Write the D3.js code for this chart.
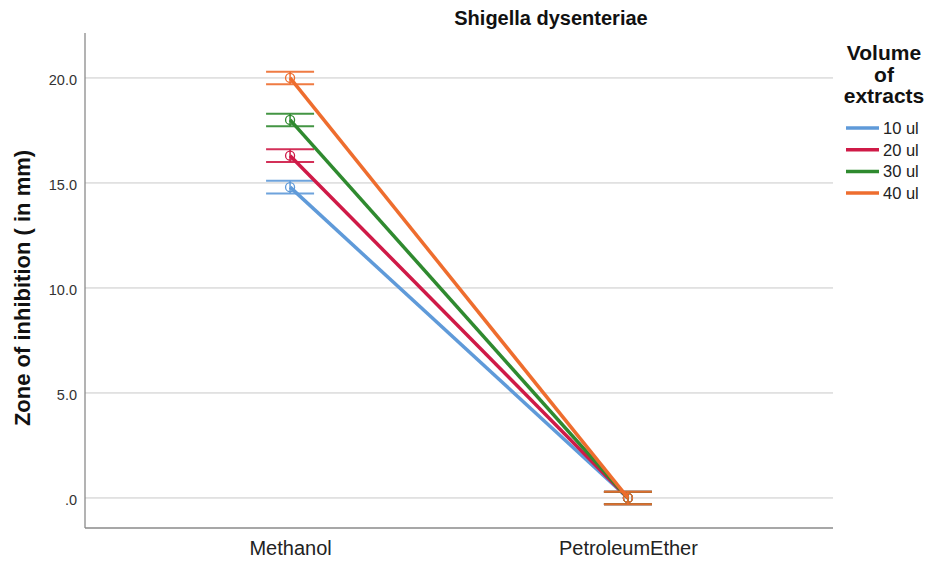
<!DOCTYPE html>
<html>
<head>
<meta charset="utf-8">
<script src="https://cdn.jsdelivr.net/npm/d3@7/dist/d3.min.js"></script>
<style>
  body { margin: 0; background: #fff; }
  svg { font-family: Arial, "Liberation Sans", sans-serif; }
</style>
</head>
<body>
<svg id="chart" width="929" height="567"></svg>
<script>
// Extract solvents on the x axis
const categories = ["Methanol", "PetroleumEther"];
// Volumes of extract (one line per volume)
const seriesNames = ["10 ul", "20 ul", "30 ul", "40 ul"];
const seriesColors = ["#5f9ad9", "#cf1a47", "#2f8a2f", "#ee6d2e"];
// Mean zone of inhibition (mm) per volume, per solvent
const means10 = [14.8, 0.0];
const means20 = [16.3, 0.0];
const means30 = [18.0, 0.0];
const means40 = [20.0, 0.0];
// Error half-widths (mm)
const errors10 = [0.3, 0.3];
const errors20 = [0.3, 0.3];
const errors30 = [0.3, 0.3];
const errors40 = [0.3, 0.3];
const yTicks = [0, 5, 10, 15, 20];
const yTickLabels = [".0", "5.0", "10.0", "15.0", "20.0"];

const series = [
  { name: seriesNames[0], color: seriesColors[0], means: means10, errs: errors10 },
  { name: seriesNames[1], color: seriesColors[1], means: means20, errs: errors20 },
  { name: seriesNames[2], color: seriesColors[2], means: means30, errs: errors30 },
  { name: seriesNames[3], color: seriesColors[3], means: means40, errs: errors40 }
];

const svg = d3.select("#chart");
const plotLeft = 85, plotRight = 833, plotTop = 33, plotBottom = 528;

const x = d3.scalePoint().domain(categories).range([plotLeft, plotRight]).padding(0.607);
const y = d3.scaleLinear().domain([-1.43, 22.14]).range([plotBottom, plotTop]);

// Horizontal gridlines
svg.append("g").selectAll("line").data(yTicks).join("line")
  .attr("x1", plotLeft).attr("x2", plotRight)
  .attr("y1", d => y(d)).attr("y2", d => y(d))
  .attr("stroke", "#c9c9c9").attr("stroke-width", 1);

// Y axis
const yAxis = d3.axisLeft(y).tickValues(yTicks)
  .tickFormat((d, i) => yTickLabels[i]).tickSize(0).tickPadding(8);
const gy = svg.append("g").attr("transform", `translate(${plotLeft},0)`).call(yAxis);
gy.select(".domain").remove();
gy.selectAll("text").attr("font-size", 14.5).attr("fill", "#333").attr("dy", "0.45em");
svg.append("line").attr("x1", plotLeft).attr("x2", plotLeft).attr("y1", plotTop).attr("y2", plotBottom)
  .attr("stroke", "#8a8a8a").attr("stroke-width", 1.3);

// X axis
const xAxis = d3.axisBottom(x).tickSize(0).tickPadding(13);
const gx = svg.append("g").attr("transform", `translate(0,${plotBottom})`).call(xAxis);
gx.select(".domain").remove();
gx.selectAll("text").attr("font-size", 20).attr("fill", "#222");
svg.append("line").attr("x1", plotLeft).attr("x2", plotRight).attr("y1", plotBottom).attr("y2", plotBottom)
  .attr("stroke", "#8a8a8a").attr("stroke-width", 1.3);

// Lines, error bars and markers
const line = d3.line().x((d, i) => x(categories[i])).y(d => y(d));
const capHalf = 24;
series.forEach(s => {
  const g = svg.append("g");
  categories.forEach((c, i) => {
    const cx = x(c), m = s.means[i], e = s.errs[i];
    g.append("line").attr("x1", cx).attr("x2", cx)
      .attr("y1", y(m + e)).attr("y2", y(m - e))
      .attr("stroke", s.color).attr("stroke-width", 1.5);
    [m + e, m - e].forEach(v => {
      g.append("line").attr("x1", cx - capHalf).attr("x2", cx + capHalf)
        .attr("y1", y(v)).attr("y2", y(v))
        .attr("stroke", s.color).attr("stroke-width", 2).attr("opacity", 0.9);
    });
  });
  g.append("path").datum(s.means).attr("d", line)
    .attr("fill", "none").attr("stroke", s.color).attr("stroke-width", 3.5);
  g.selectAll("circle").data(s.means).join("circle")
    .attr("cx", (d, i) => x(categories[i])).attr("cy", d => y(d)).attr("r", 4.5)
    .attr("fill", "none").attr("stroke", s.color).attr("stroke-width", 1.3);
});

// Title
svg.append("text").attr("x", 551).attr("y", 25).attr("text-anchor", "middle")
  .attr("font-size", 20).attr("font-weight", "bold").attr("fill", "#111")
  .text("Shigella dysenteriae");

// Y axis title
svg.append("text").attr("transform", "translate(30,288) rotate(-90)")
  .attr("text-anchor", "middle").attr("font-size", 22).attr("font-weight", "bold")
  .attr("fill", "#111").text("Zone of inhibition ( in mm)");

// Legend
const legTitle = ["Volume", "of", "extracts"];
svg.append("g").selectAll("text").data(legTitle).join("text")
  .attr("x", 884).attr("y", (d, i) => 60 + i * 21.5).attr("text-anchor", "middle")
  .attr("font-size", 21).attr("font-weight", "bold").attr("fill", "#111").text(d => d);
const leg = svg.append("g").selectAll("g").data(series).join("g")
  .attr("transform", (d, i) => `translate(0,${128 + i * 21.7})`);
leg.append("line").attr("x1", 846).attr("x2", 879).attr("y1", 0).attr("y2", 0)
  .attr("stroke", d => d.color).attr("stroke-width", 3.5);
leg.append("text").attr("x", 883).attr("y", 6).attr("font-size", 16.5)
  .attr("fill", "#222").text(d => d.name);
</script>
</body>
</html>
